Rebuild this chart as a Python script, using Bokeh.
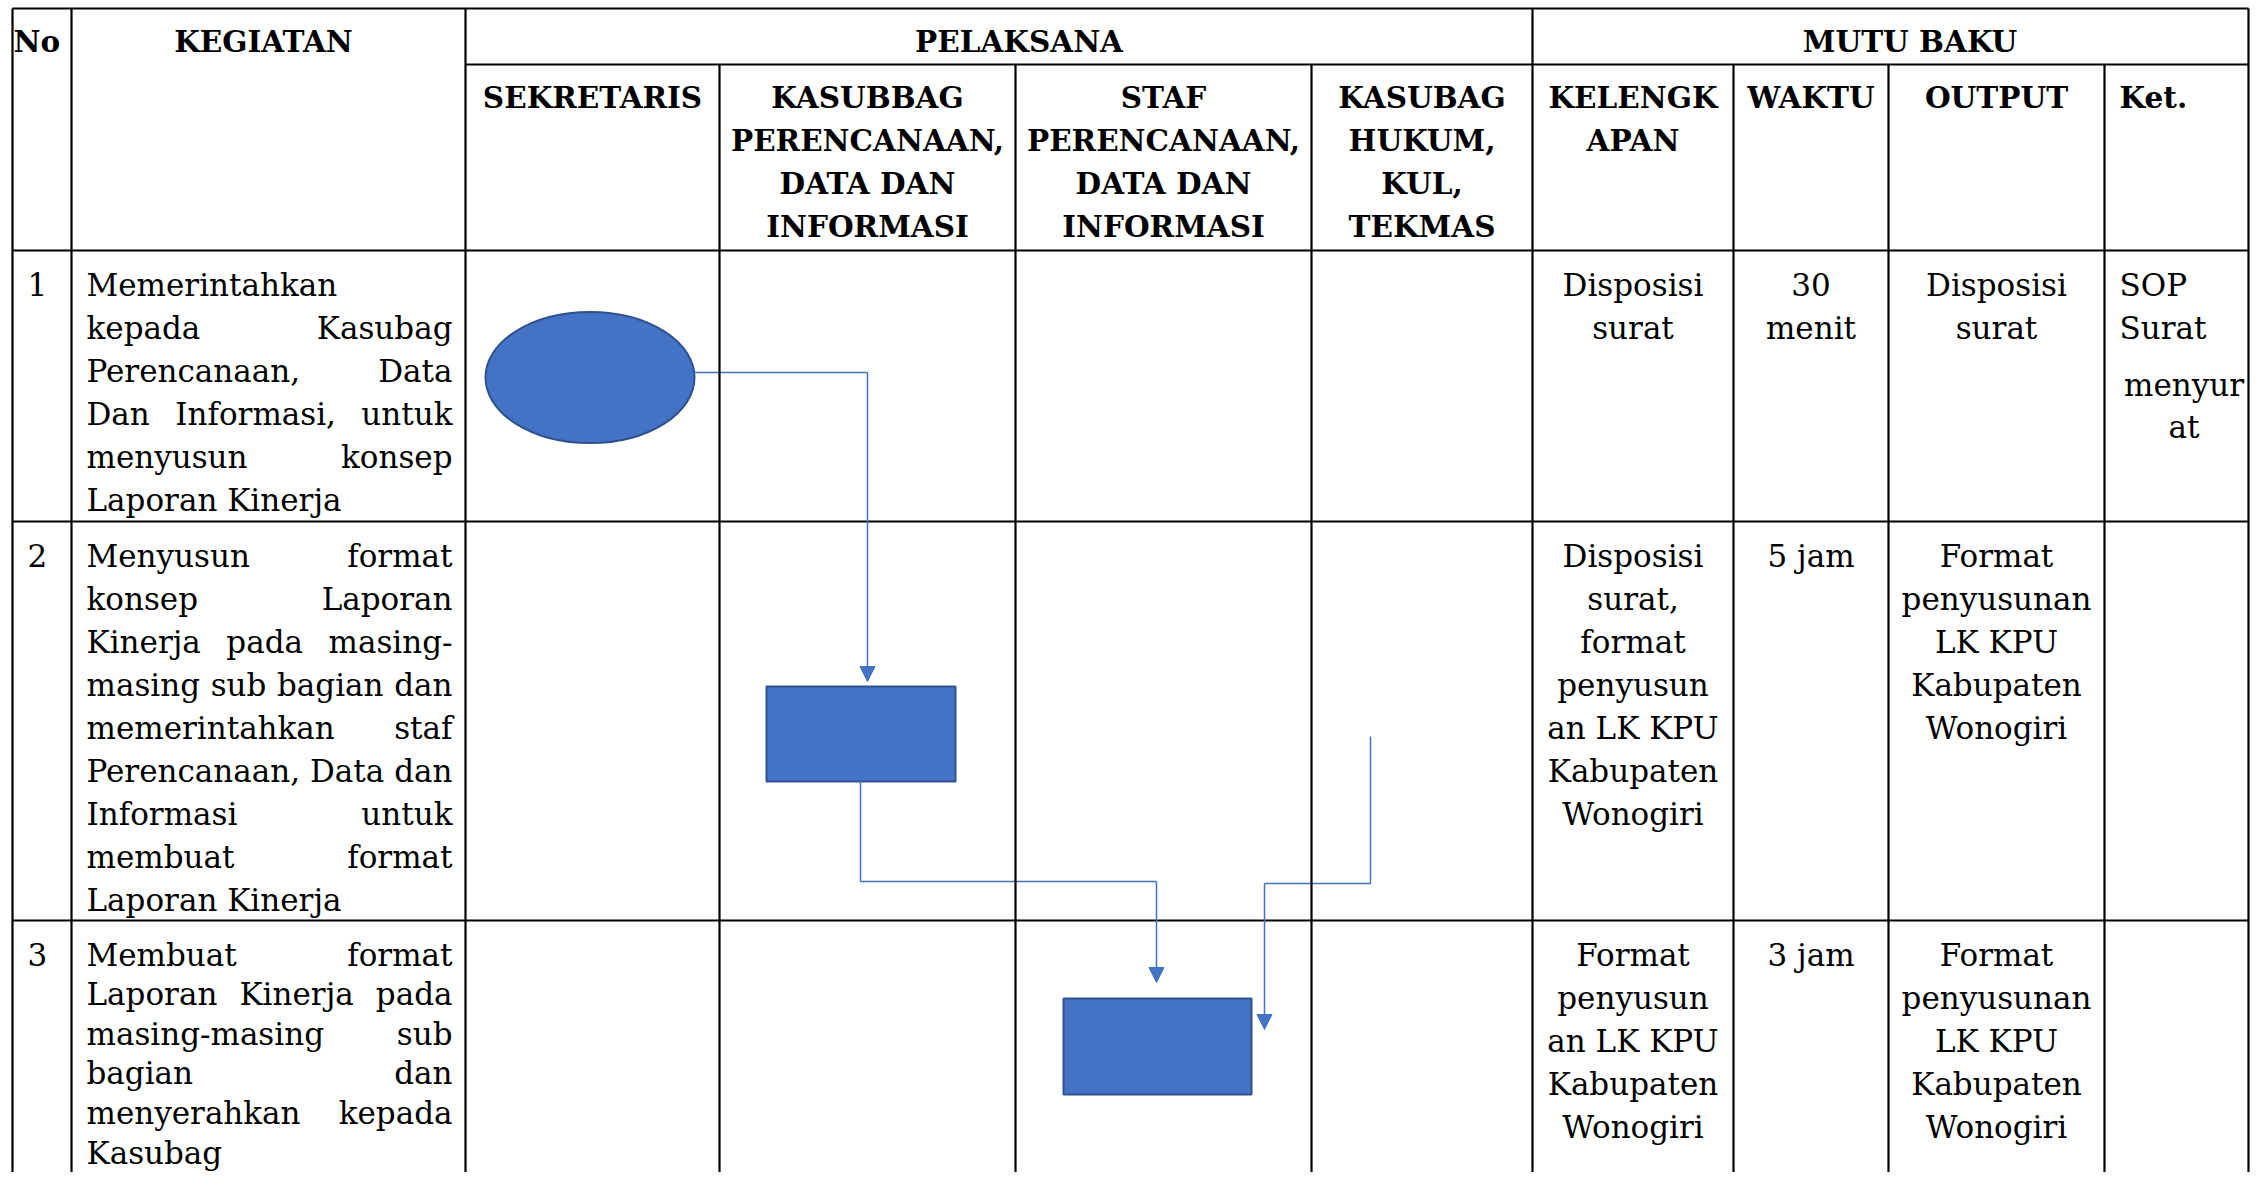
from bokeh.plotting import figure
from bokeh.models import Range1d, Arrow, NormalHead, ColumnDataSource
from bokeh.core.properties import value
from bokeh.embed import file_html
from bokeh.resources import INLINE

try:
    from PIL import ImageFont
except Exception:
    ImageFont = None

# ---------------- data ----------------
top_headers = ["No", "KEGIATAN", "PELAKSANA", "MUTU BAKU"]
lane_headers = [
    ["SEKRETARIS"],
    ["KASUBBAG", "PERENCANAAN,", "DATA DAN", "INFORMASI"],
    ["STAF", "PERENCANAAN,", "DATA DAN", "INFORMASI"],
    ["KASUBAG", "HUKUM,", "KUL,", "TEKMAS"],
]
mutu_headers = [["KELENGK", "APAN"], ["WAKTU"], ["OUTPUT"], ["Ket."]]
step_no = ["1", "2", "3"]
kegiatan = [
    ["Memerintahkan", "kepada Kasubag", "Perencanaan, Data", "Dan Informasi, untuk",
     "menyusun konsep", "Laporan Kinerja"],
    ["Menyusun format", "konsep Laporan", "Kinerja pada masing-", "masing sub bagian dan",
     "memerintahkan staf", "Perencanaan, Data dan", "Informasi untuk", "membuat format",
     "Laporan Kinerja"],
    ["Membuat format", "Laporan Kinerja pada", "masing-masing sub", "bagian dan",
     "menyerahkan kepada", "Kasubag"],
]
kelengkapan = [
    ["Disposisi", "surat"],
    ["Disposisi", "surat,", "format", "penyusun", "an LK KPU", "Kabupaten", "Wonogiri"],
    ["Format", "penyusun", "an LK KPU", "Kabupaten", "Wonogiri"],
]
waktu = [["30", "menit"], ["5 jam"], ["3 jam"]]
output = [
    ["Disposisi", "surat"],
    ["Format", "penyusunan", "LK KPU", "Kabupaten", "Wonogiri"],
    ["Format", "penyusunan", "LK KPU", "Kabupaten", "Wonogiri"],
]
keterangan = [["SOP", "Surat"], [], []]
keterangan_note = [["menyur", "at"], [], []]
step_lane = [0, 1, 2]
step_shape = ["ellipse", "rect", "rect"]

# ---------------- layout ----------------
W, H = 2250, 1172
COLS = [12, 71, 465, 719, 1015, 1311, 1532, 1733, 1888, 2104, 2263]
ROWS = [8, 64, 250, 521, 920]
BOTTOM = H
RIGHT_EDGE = min(COLS[-1], W - 2)
FS_BODY = 31
FS_HEAD = 29.5
LINE = 43
DY = -11          # baseline correction
MAX_BASE = H - 9  # keep descenders inside the canvas
FONT = "DejaVu Serif"
BLUE = "#4472C4"
BLUE_DARK = "#2F528F"


def load_font(bold, size):
    if ImageFont is None:
        return None
    name = "DejaVuSerif-Bold.ttf" if bold else "DejaVuSerif.ttf"
    for path in [name, "/usr/share/fonts/truetype/dejavu/" + name,
                 "/usr/share/fonts/dejavu/" + name]:
        try:
            return ImageFont.truetype(path, size)
        except Exception:
            pass
    return None


f_body = load_font(False, FS_BODY)


def tw(s):
    if f_body is not None:
        try:
            return f_body.getlength(s)
        except Exception:
            pass
    return len(s) * 0.58 * FS_BODY


p = figure(width=W, height=H, output_backend="svg", toolbar_location=None,
           x_range=Range1d(0, W), y_range=Range1d(H, 0),
           x_axis_location=None, y_axis_location=None, min_border=0,
           background_fill_color="white", border_fill_color="white")
p.outline_line_color = None
p.xgrid.visible = False
p.ygrid.visible = False

groups = {}


def add(x, y, t, bold=False, align="left"):
    g = groups.setdefault((bold, align), {"x": [], "y": [], "t": []})
    g["x"].append(x)
    g["y"].append(y + DY)
    g["t"].append(t)


# ---- flowchart shapes ----
lane_l = COLS[2:6]
lane_r = COLS[3:7]
e_cx = (lane_l[0] + lane_r[0]) / 2 - 2.5
e_cy = ROWS[2] + 127
p.ellipse(x=[e_cx], y=[e_cy], width=[209], height=[131],
          fill_color=BLUE, line_color=BLUE_DARK, line_width=2)
r1 = dict(l=766, r=955, t=686, b=781)
r2 = dict(l=1063, r=1251, t=998, b=1094)
p.quad(left=[r1["l"], r2["l"]], right=[r1["r"], r2["r"]],
       top=[r1["t"], r2["t"]], bottom=[r1["b"], r2["b"]],
       fill_color=BLUE, line_color=BLUE_DARK, line_width=2)

conn = [
    ([e_cx + 104.5, 867, 867], [372, 372, 681]),
    ([860, 860, 1156, 1156], [r1["b"], 881, 881, 982]),
    ([1370, 1370, 1264, 1264], [736, 883, 883, 1029]),
]
for xs, ys in conn:
    p.line(xs[:-1], ys[:-1], line_color=BLUE, line_width=1.5)
    p.add_layout(Arrow(end=NormalHead(size=15, fill_color=BLUE, line_color=BLUE, line_width=1),
                       x_start=xs[-2], y_start=ys[-2], x_end=xs[-1], y_end=ys[-1],
                       line_color=BLUE, line_width=1.5))

# ---- table grid ----
x0s, y0s, x1s, y1s = [], [], [], []


def seg(a, b, c, d):
    x0s.append(a); y0s.append(b); x1s.append(c); y1s.append(d)


seg(COLS[0], ROWS[0], RIGHT_EDGE, ROWS[0])
seg(COLS[2], ROWS[1], RIGHT_EDGE, ROWS[1])
for ry in ROWS[2:]:
    seg(COLS[0], ry, RIGHT_EDGE, ry)
for i, cx in enumerate(COLS):
    top = ROWS[0] if i in (0, 1, 2, 6, 10) else ROWS[1]
    xx = RIGHT_EDGE if i == len(COLS) - 1 else cx
    seg(xx, top, xx, BOTTOM)
p.segment(x0=x0s, y0=y0s, x1=x1s, y1=y1s, line_color="black", line_width=2.2)

# ---- headers ----
hb1 = 52
add(COLS[0] + 1, hb1, top_headers[0], True, "left")
add((COLS[1] + COLS[2]) / 2 - 5, hb1, top_headers[1], True, "center")
add((COLS[2] + COLS[6]) / 2 + 20, hb1, top_headers[2], True, "center")
add((COLS[6] + COLS[10]) / 2 + 12, hb1, top_headers[3], True, "center")

hb2 = 108
for i, lines in enumerate(lane_headers):
    cx = (COLS[2 + i] + COLS[3 + i]) / 2
    for j, t in enumerate(lines):
        add(cx, hb2 + LINE * j, t, True, "center")
for i, lines in enumerate(mutu_headers):
    for j, t in enumerate(lines):
        if i == 3:
            add(COLS[9] + 15, hb2 + LINE * j, t, True, "left")
        else:
            cx = (COLS[6 + i] + COLS[7 + i]) / 2
            add(cx, hb2 + LINE * j, t, True, "center")

# ---- body ----
TL, TR = COLS[1] + 15, COLS[2] - 13
for r in range(3):
    base = ROWS[2 + r] + 45
    add(COLS[0] + 15, base, step_no[r], False, "left")
    lines = kegiatan[r]
    # tighten the spacing only if the paragraph would run past the canvas bottom
    step = LINE
    if len(lines) > 1 and base + LINE * (len(lines) - 1) > MAX_BASE:
        step = (MAX_BASE - base) / (len(lines) - 1)
    for j, line in enumerate(lines):
        y = base + step * j
        words = line.split(" ")
        last = (j == len(lines) - 1)
        if last or len(words) == 1:
            add(TL, y, line, False, "left")
            continue
        widths = [tw(w) for w in words]
        gap = max((TR - TL - sum(widths)) / (len(words) - 1), tw(" "))
        x = TL
        for k, w in enumerate(words):
            if k == len(words) - 1:
                add(TR, y, w, False, "right")
            else:
                add(x, y, w, False, "left")
            x += widths[k] + gap
    for col, data in ((6, kelengkapan), (7, waktu), (8, output)):
        cx = (COLS[col] + COLS[col + 1]) / 2
        for j, t in enumerate(data[r]):
            add(cx, base + LINE * j, t, False, "center")
    for j, t in enumerate(keterangan[r]):
        add(COLS[9] + 15, base + LINE * j, t, False, "left")
    nb = base + LINE * len(keterangan[r]) + 14
    kc = (COLS[9] + COLS[10]) / 2
    for j, t in enumerate(keterangan_note[r]):
        add(kc, nb + 42 * j, t, False, "center")

for (bold, align), g in groups.items():
    src = ColumnDataSource(dict(x=g["x"], y=g["y"], text=g["t"]))
    p.text(x="x", y="y", text="text", source=src,
           text_font=value(FONT), text_font_size=value(f"{FS_HEAD if bold else FS_BODY}px"),
           text_font_style="bold" if bold else "normal",
           text_align=align, text_baseline="alphabetic", text_color="black")

open("out.html", "w").write(file_html(p, INLINE))
